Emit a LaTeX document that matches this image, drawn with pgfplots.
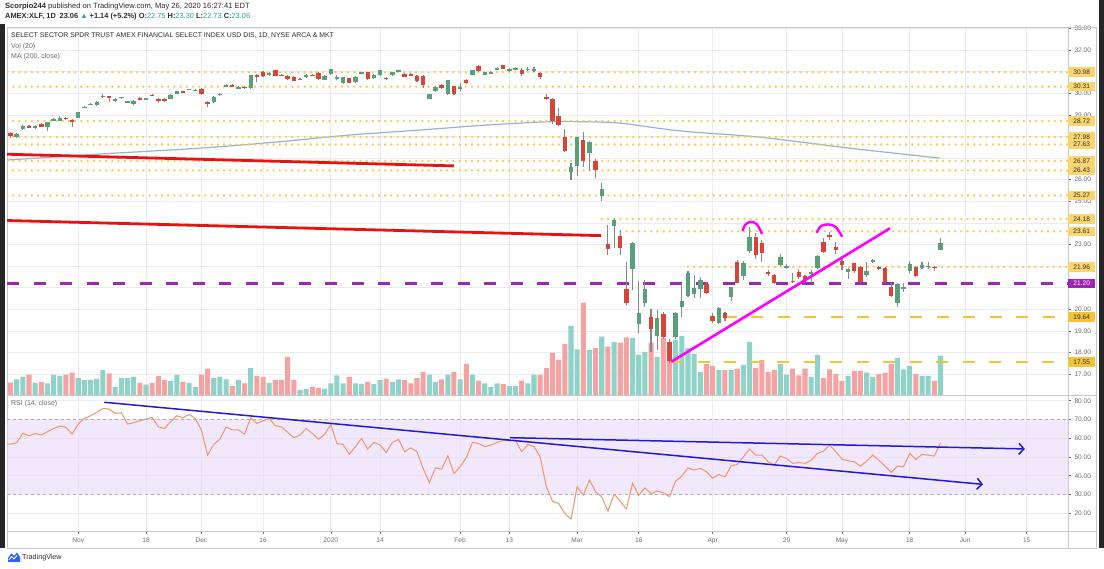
\documentclass[border=0pt]{standalone}
\usepackage{pgfplots}
\pgfplotsset{compat=1.18}
\usepackage{pgfplotstable}
\usepackage{fontspec}
\setmainfont{Liberation Sans}
\usetikzlibrary{arrows.meta}

\definecolor{candleup}{RGB}{88,160,122}
\definecolor{candledn}{RGB}{214,69,56}
\definecolor{volup}{RGB}{142,210,200}
\definecolor{voldn}{RGB}{244,162,162}
\definecolor{wickc}{RGB}{135,135,135}
\definecolor{gridc}{RGB}{236,236,238}
\definecolor{framec}{RGB}{200,200,204}
\definecolor{tickc}{RGB}{110,110,115}
\definecolor{txtc}{RGB}{45,45,50}
\definecolor{dotc}{RGB}{245,203,80}
\definecolor{lvlA}{RGB}{249,214,112}
\definecolor{lvlB}{RGB}{243,196,56}
\definecolor{purp}{RGB}{156,39,176}
\definecolor{redl}{RGB}{232,18,18}
\definecolor{magl}{RGB}{255,0,255}
\definecolor{mac}{RGB}{150,182,196}
\definecolor{rsic}{RGB}{238,150,105}
\definecolor{bandc}{RGB}{231,211,249}
\definecolor{bluel}{RGB}{35,25,210}
\definecolor{tealv}{RGB}{38,166,154}
\definecolor{tvblue}{RGB}{41,98,255}
\definecolor{darkb}{RGB}{38,38,40}

\newcommand\tickfont{\fontsize{6.6}{8}\selectfont}

% trading-day index (0 = 1 Nov 2019), open, high, low, close, volume (millions)
\pgfplotstableread{
i o h l c v
-12 28.06 28.12 27.98 28.02 45
-11 28.17 28.22 27.95 28.02 31
-10 27.96 28.15 27.92 28.11 39
-9 28.34 28.53 28.30 28.50 45
-8 28.46 28.55 28.40 28.44 51
-7 28.38 28.55 28.35 28.50 30
-6 28.57 28.62 28.42 28.45 33
-5 28.45 28.68 28.25 28.65 29
-4 28.76 28.88 28.72 28.80 50
-3 28.73 28.95 28.70 28.87 48
-2 28.88 28.92 28.75 28.80 51
-1 28.76 28.80 28.45 28.68 56
0 28.88 29.15 28.85 29.12 42
1 29.33 29.40 29.30 29.37 38
2 29.48 29.55 29.45 29.52 38
3 29.45 29.66 29.42 29.62 40
4 29.86 29.95 29.80 29.88 62
5 29.85 29.90 29.62 29.83 54
6 29.65 29.80 29.62 29.76 20
7 29.80 29.85 29.75 29.82 42
8 29.58 29.66 29.55 29.62 42
9 29.50 29.68 29.48 29.65 45
10 29.78 29.82 29.72 29.74 30
11 29.75 29.80 29.72 29.77 26
12 29.93 29.96 29.88 29.90 30
13 29.73 29.78 29.53 29.64 47
14 29.75 29.80 29.60 29.66 38
15 29.76 29.95 29.74 29.92 35
16 29.98 30.13 29.95 30.10 50
17 30.08 30.12 30.02 30.05 33
18 30.17 30.22 30.14 30.19 30
19 30.14 30.18 30.10 30.15 20
20 30.20 30.24 29.94 29.96 51
21 29.62 29.66 29.35 29.50 66
22 29.58 29.86 29.55 29.84 42
23 29.94 30.00 29.90 29.97 45
24 30.30 30.42 30.28 30.39 39
25 30.37 30.42 30.30 30.33 22
26 30.25 30.32 30.22 30.28 38
27 30.30 30.35 30.22 30.25 29
28 30.25 30.86 30.22 30.84 67
29 30.83 30.88 30.53 30.77 48
30 31.00 31.04 30.78 30.81 45
31 30.85 31.00 30.82 30.96 30
32 31.07 31.10 30.78 30.81 38
33 30.86 30.90 30.80 30.82 38
34 30.80 30.84 30.62 30.66 95
35 30.76 30.80 30.55 30.58 38
36 30.65 30.70 30.62 30.67 13
37 30.74 30.90 30.72 30.87 15
38 30.86 30.90 30.80 30.82 20
39 30.95 30.98 30.62 30.66 18
40 30.64 30.83 30.62 30.80 15
41 30.89 31.13 30.86 31.11 29
42 30.70 30.85 30.60 30.73 49
43 30.46 30.76 30.44 30.74 29
44 30.69 30.72 30.48 30.50 45
45 30.53 30.79 30.50 30.76 29
46 30.94 31.00 30.90 30.96 27
47 30.97 31.00 30.63 30.66 33
48 30.72 30.90 30.68 30.87 27
49 30.84 31.10 30.82 31.07 38
50 30.72 30.75 30.62 30.66 41
51 30.84 31.00 30.80 30.97 33
52 31.03 31.10 31.00 31.05 39
53 30.89 30.93 30.74 30.76 38
54 30.88 30.92 30.82 30.86 29
55 30.81 30.85 30.54 30.56 42
56 30.80 30.83 30.23 30.38 58
57 29.76 29.98 29.72 29.95 51
58 30.10 30.33 30.05 30.30 33
59 30.38 30.42 30.20 30.23 39
60 29.95 30.62 29.92 30.60 51
61 30.33 30.36 29.93 29.95 58
62 30.24 30.46 30.10 30.26 39
63 30.60 30.66 30.42 30.46 78
64 30.87 31.09 30.84 31.07 51
65 31.26 31.30 31.00 31.03 36
66 30.87 31.00 30.84 30.97 29
67 30.90 31.03 30.88 31.00 20
68 31.13 31.24 31.10 31.16 29
69 31.30 31.33 31.12 31.15 27
70 31.04 31.18 31.00 31.15 22
71 31.14 31.20 31.10 31.16 22
72 31.10 31.16 30.78 30.89 36
73 31.08 31.20 31.05 31.15 29
74 31.09 31.22 30.98 31.11 51
75 30.95 30.98 30.68 30.76 50
76 29.83 29.95 29.70 29.78 67
77 29.76 29.80 28.60 28.73 105
78 28.95 29.30 28.50 28.53 88
79 27.96 28.37 27.28 27.32 128
80 26.37 26.78 25.98 26.57 173
81 26.63 27.98 26.17 27.96 114
82 27.83 28.22 26.60 26.88 231
83 27.25 27.80 26.40 27.76 112
84 26.88 26.95 26.10 26.44 117
85 25.24 25.83 25.02 25.55 146
86 23.00 23.90 22.50 22.77 121
87 23.85 24.21 22.82 24.13 133
88 23.39 23.67 22.50 22.82 131
89 20.92 22.20 20.20 20.30 144
90 21.86 23.10 20.90 23.05 143
91 19.31 21.32 18.88 19.83 100
92 20.30 21.35 20.10 20.96 108
93 19.62 20.00 18.03 19.10 131
94 18.76 19.96 18.10 19.58 95
95 19.78 19.89 18.60 18.70 143
96 18.50 18.60 17.50 17.62 115
97 18.70 19.89 18.60 19.81 138
98 20.09 21.20 19.65 20.39 148
99 20.61 21.77 20.55 21.69 118
100 20.73 21.60 20.50 21.00 103
101 20.96 21.48 20.50 21.35 58
102 21.17 21.27 20.70 20.77 77
103 19.68 19.85 19.35 19.47 73
104 19.38 20.10 19.32 20.04 62
105 19.81 19.86 19.45 19.58 62
106 20.55 21.05 20.40 21.02 62
107 22.20 22.28 21.20 21.23 66
108 21.54 22.25 21.35 22.15 75
109 22.71 23.80 22.60 23.36 133
110 23.33 23.54 22.31 22.51 68
111 23.08 23.20 22.20 22.59 87
112 21.74 21.80 21.55 21.63 58
113 21.58 21.62 21.15 21.23 62
114 22.05 22.55 22.00 22.40 78
115 21.96 22.10 21.85 21.99 51
116 21.32 21.70 21.20 21.29 66
117 21.74 21.85 21.40 21.48 49
118 21.54 21.60 21.25 21.34 66
119 21.63 21.80 21.20 21.74 45
120 21.90 22.50 21.85 22.46 100
121 23.13 23.30 22.60 22.66 43
122 23.44 23.60 23.20 23.36 64
123 22.87 23.10 22.55 22.74 53
124 22.25 22.45 21.80 22.05 35
125 21.74 21.90 21.38 21.86 48
126 22.12 22.15 21.70 21.78 60
127 21.94 22.00 21.20 21.27 60
128 21.58 22.20 21.50 21.78 56
129 22.20 22.32 22.15 22.26 45
130 21.97 22.02 21.80 21.85 52
131 21.92 21.97 21.20 21.27 56
132 21.04 21.20 20.55 20.61 77
133 20.27 21.20 20.09 21.17 93
134 20.98 21.20 20.80 21.02 64
135 21.78 22.25 21.70 22.09 73
136 21.97 22.02 21.50 21.55 53
137 21.91 22.20 21.85 22.05 48
138 21.99 22.20 21.85 22.01 48
139 21.97 22.00 21.75 21.90 35
140 22.75 23.30 22.73 23.06 98
}\candles

\pgfplotstableread{
i r
-12 56.7
-11 56.9
-10 57.6
-9 62.6
-8 61.3
-7 62.6
-6 61.7
-5 63.5
-4 65.2
-3 66.5
-2 65.8
-1 62.2
0 67.6
1 70.6
2 72.0
3 73.8
4 75.9
5 75.6
6 73.3
7 73.6
8 67.6
9 68.3
10 69.3
11 70.2
12 71.1
13 66.1
14 65.2
15 68.8
16 72.0
17 70.9
18 72.7
19 70.6
20 64.4
21 51.0
22 56.7
23 59.5
24 66.0
25 64.4
26 64.4
27 62.2
28 70.9
29 67.9
30 69.2
31 70.6
32 66.7
33 66.1
34 63.1
35 60.3
36 61.7
37 65.2
38 62.6
39 59.5
40 62.0
41 67.4
42 57.2
43 56.7
44 51.5
45 55.5
46 59.9
47 54.2
48 57.8
49 56.4
50 52.4
51 57.8
52 59.4
53 52.8
54 54.9
55 52.8
56 43.9
57 36.4
58 44.2
59 43.5
60 50.7
61 41.2
62 44.8
63 49.6
64 57.8
65 57.2
66 55.5
67 56.4
68 57.8
69 58.7
70 58.7
71 58.7
72 52.8
73 56.7
74 55.5
75 50.1
76 34.1
77 26.4
78 25.2
79 19.9
80 16.8
81 34.1
82 29.6
83 37.7
84 31.4
85 28.8
86 21.1
87 30.2
88 26.4
89 22.2
90 35.9
91 29.6
92 33.5
93 30.5
94 31.9
95 30.9
96 28.8
97 37.3
98 39.8
99 44.2
100 43.0
101 43.9
102 42.1
103 38.6
104 40.7
105 39.4
106 45.3
107 46.0
108 50.1
109 54.2
110 51.0
111 51.0
112 47.5
113 45.7
114 50.5
115 49.2
116 46.6
117 47.1
118 46.6
119 48.3
120 51.9
121 53.1
122 56.4
123 52.8
124 48.9
125 48.0
126 47.5
127 45.1
128 47.8
129 51.0
130 48.3
131 45.1
132 41.8
133 45.1
134 44.8
135 51.9
136 48.7
137 51.4
138 51.0
139 50.5
140 57.6
}\rsi

\pgfplotsset{
  pane/.style={scale only axis, width=1061bp, xmin=-11.57, xmax=160.7, anchor=south west},
  upc/.style={restrict expr to domain={\thisrow{c}-\thisrow{o}}{-0.0001:1000}},
  dnc/.style={restrict expr to domain={\thisrow{c}-\thisrow{o}}{-1000:-0.0002}},
}
\tikzset{
  dotlvl/.style={draw=dotc, line width=2.6bp, line cap=round, dash pattern=on 0bp off 6.2bp},
  dashlvl/.style={line width=2.6bp, dash pattern=on 12bp off 14.5bp},
  lvl/.style={anchor=west, inner sep=0pt, minimum width=27bp, minimum height=9.4bp, font=\tickfont, text=txtc},
}

\begin{document}
\begin{tikzpicture}[x=1bp,y=1bp]
\fill[white] (0,0) rectangle (1104,569);

% ---- main pane: frame, grid, price scale
\begin{axis}[pane, at={(7bp,174bp)}, height=367.5bp,
  ymin=16.03, ymax=33.05,
  xtick={0,11,20,30,41,49,62,70,81,91,103,115,124,135,144,154}, xticklabels={},
  ytick={17,18,...,33},
  yticklabels={17.00,18.00,19.00,20.00,,,23.00,,25.00,26.00,,,29.00,30.00,,32.00,33.00},
  ytick pos=right, yticklabel pos=right,
  grid=major, major grid style={draw=gridc, line width=0.7bp},
  axis line style={draw=framec, line width=0.8bp},
  xtick style={draw=none}, ytick style={draw=tickc, line width=0.5bp},
  tick align=outside, major tick length=3bp,
  yticklabel style={font=\tickfont, text=tickc},
]
\end{axis}

% ---- volume
\begin{axis}[pane, at={(7bp,174bp)}, height=367.5bp,
  ymin=0, ymax=918.75, hide axis]
\addplot[upc, ybar, bar width=0.82, bar shift=0pt, fill=volup, draw=none] table[x=i, y=v]{\candles};
\addplot[dnc, ybar, bar width=0.82, bar shift=0pt, fill=voldn, draw=none] table[x=i, y=v]{\candles};
\end{axis}

% ---- price data
\begin{axis}[pane, at={(7bp,174bp)}, height=367.5bp,
  ymin=16.03, ymax=33.05, hide axis, clip mode=individual]
% MA 200
\addplot[mac, line width=1.2bp, smooth] coordinates {(-11.57,26.91) (3.52,27.19) (19.76,27.46) (32.74,27.76) (44.11,28.07) (55.47,28.30) (65.21,28.51) (74.95,28.67) (80.63,28.69) (87.94,28.62) (97.68,28.26) (110.67,27.97) (125.28,27.46) (139.89,27.0)};
% dotted levels
\addplot[dotlvl] coordinates {(-11.57,30.98) (160.7,30.98)};
\addplot[dotlvl] coordinates {(-11.57,30.31) (160.7,30.31)};
\addplot[dotlvl] coordinates {(-11.57,28.72) (160.7,28.72)};
\addplot[dotlvl] coordinates {(-11.57,27.98) (160.7,27.98)};
\addplot[dotlvl] coordinates {(-11.57,27.63) (160.7,27.63)};
\addplot[dotlvl] coordinates {(-11.57,26.87) (160.7,26.87)};
\addplot[dotlvl] coordinates {(-11.57,26.43) (160.7,26.43)};
\addplot[dotlvl] coordinates {(-11.57,25.27) (160.7,25.27)};
\addplot[dotlvl] coordinates {(85,24.18) (160.7,24.18)};
\addplot[dotlvl] coordinates {(88,23.61) (160.7,23.61)};
\addplot[dotlvl] coordinates {(99,21.96) (160.7,21.96)};
% dashed levels
\addplot[dashlvl, draw=purp] coordinates {(-11.57,21.20) (160.7,21.20)};
\addplot[dashlvl, draw=lvlB] coordinates {(105,19.64) (160.7,19.64)};
\addplot[dashlvl, draw=lvlB] coordinates {(96.3,17.55) (160.7,17.55)};
% candles
\addplot[forget plot, draw=none, mark=none, error bars/.cd, y dir=both, y explicit, error mark=none,
  error bar style={draw=wickc, line width=1.1bp}]
  table[x=i, y expr={(\thisrow{h}+\thisrow{l})/2}, y error expr={(\thisrow{h}-\thisrow{l})/2}]{\candles};
\addplot[upc, forget plot, draw=none, mark=none, error bars/.cd, y dir=both, y explicit, error mark=none,
  error bar style={draw=candleup, line width=4.4bp}]
  table[x=i, y expr={(\thisrow{o}+\thisrow{c})/2}, y error expr={max(abs(\thisrow{c}-\thisrow{o})/2,0.025)}]{\candles};
\addplot[dnc, forget plot, draw=none, mark=none, error bars/.cd, y dir=both, y explicit, error mark=none,
  error bar style={draw=candledn, line width=4.4bp}]
  table[x=i, y expr={(\thisrow{o}+\thisrow{c})/2}, y error expr={max(abs(\thisrow{c}-\thisrow{o})/2,0.025)}]{\candles};
% drawn trend lines
\addplot[redl, line width=2.8bp] coordinates {(-11.57,27.18) (61.0,26.64)};
\addplot[redl, line width=2.8bp] coordinates {(-11.57,24.11) (84.9,23.41)};
\addplot[magl, line width=2.6bp] coordinates {(96.3,17.57) (131.8,23.75)};
\addplot[magl, line width=2.4bp, smooth] coordinates {(107.86,23.63) (108.31,23.92) (109.2,24.05) (110.18,23.94) (111.04,23.48)};
\addplot[magl, line width=2.4bp, smooth] coordinates {(119.87,23.54) (120.57,23.85) (121.75,23.93) (123.0,23.81) (124.03,23.36)};
% level labels on the price scale
\node[lvl, fill=lvlA] at (axis cs:160.7,30.98) {30.98};
\node[lvl, fill=lvlA] at (axis cs:160.7,30.31) {30.31};
\node[lvl, fill=lvlA] at (axis cs:160.7,28.72) {28.72};
\node[lvl, fill=lvlA] at (axis cs:160.7,27.98) {27.98};
\node[lvl, fill=lvlA] at (axis cs:160.7,27.63) {27.63};
\node[lvl, fill=lvlA] at (axis cs:160.7,26.87) {26.87};
\node[lvl, fill=lvlA] at (axis cs:160.7,26.43) {26.43};
\node[lvl, fill=lvlA] at (axis cs:160.7,25.27) {25.27};
\node[lvl, fill=lvlA] at (axis cs:160.7,24.18) {24.18};
\node[lvl, fill=lvlA] at (axis cs:160.7,23.61) {23.61};
\node[lvl, fill=lvlA] at (axis cs:160.7,21.96) {21.96};
\node[lvl, fill=purp, text=white] at (axis cs:160.7,21.20) {21.20};
\node[lvl, fill=lvlB] at (axis cs:160.7,19.64) {19.64};
\node[lvl, fill=lvlB] at (axis cs:160.7,17.55) {17.55};
\end{axis}

% ---- RSI pane
\begin{axis}[pane, at={(7bp,38bp)}, height=136bp,
  ymin=10.53, ymax=83.07,
  xtick={0,11,20,30,41,49,62,70,81,91,103,115,124,135,144,154},
  xticklabels={Nov,18,Dec,16,2020,14,Feb,13,Mar,16,Apr,20,May,18,Jun,15},
  ytick={20,30,...,80}, ytick pos=right, yticklabel pos=right, xtick pos=bottom,
  grid=major, major grid style={draw=gridc, line width=0.7bp},
  axis line style={draw=framec, line width=0.8bp},
  tick style={draw=tickc, line width=0.5bp},
  tick align=outside, major tick length=3bp,
  xticklabel style={font=\tickfont, text=tickc},
  yticklabel style={font=\tickfont, text=tickc, /pgf/number format/fixed, /pgf/number format/fixed zerofill, /pgf/number format/precision=2, /pgf/number format/assume math mode=true},
  clip mode=individual,
]
\addplot[draw=none, fill=bandc, fill opacity=0.5] coordinates {(-11.57,30) (160.7,30) (160.7,70) (-11.57,70)} -- cycle;
\addplot[draw=gray!60, line width=0.7bp, dash pattern=on 3bp off 3bp] coordinates {(-11.57,70) (160.7,70)};
\addplot[draw=gray!60, line width=0.7bp, dash pattern=on 3bp off 3bp] coordinates {(-11.57,30) (160.7,30)};
\addplot[rsic, line width=1bp] table[x=i, y=r]{\rsi};
\addplot[bluel, line width=1.5bp, -{Straight Barb[length=5bp,width=11bp]}] coordinates {(4.22,79.2) (146.9,35.4)};
\addplot[bluel, line width=1.5bp, -{Straight Barb[length=5bp,width=11bp]}] coordinates {(70.1,60.3) (153.7,54.3)};
\end{axis}

% ---- frame of the chart
\draw[framec, line width=0.8bp] (1068,541.5) -- (1096,541.5) -- (1096,21) -- (7,21) -- (7,38);
\draw[framec, line width=0.8bp] (1068,174) -- (1096,174);
\draw[framec, line width=0.8bp] (1068,38) -- (1096,38);
\draw[framec, line width=0.8bp] (1068,38) -- (1068,21);
\fill[darkb] (0,21) rectangle (5,545);
\fill[darkb] (1099,21) rectangle (1104,569);

% ---- texts
\node[anchor=west, inner sep=0pt, font=\fontsize{7.6}{9}\selectfont, text=txtc] at (5,562.3)
  {\textbf{Scorpio244} published on TradingView.com, May 26, 2020 16:27:41 EDT};
\node[anchor=west, inner sep=0pt, font=\fontsize{7.45}{9}\selectfont, text=txtc] at (5,552.3)
  {\textbf{AMEX:XLF, 1D\enspace 23.06 \textcolor{tealv}{▲} +1.14 (+5.2\%) O:}\textcolor{tealv}{22.75} \textbf{H:}\textcolor{tealv}{23.30} \textbf{L:}\textcolor{tealv}{22.73} \textbf{C:}\textcolor{tealv}{23.06}};
\node[anchor=west, inner sep=0pt, font=\fontsize{6.9}{8}\selectfont, text=txtc] at (11,533)
  {SELECT SECTOR SPDR TRUST AMEX FINANCIAL SELECT INDEX USD DIS, 1D, NYSE ARCA \& MKT};
\node[anchor=west, inner sep=0pt, font=\fontsize{7.0}{8}\selectfont, text=tickc] at (11,522.3) {Vol (20)};
\node[anchor=west, inner sep=0pt, font=\fontsize{7.0}{8}\selectfont, text=tickc] at (11,512.3) {MA (200, close)};
\node[anchor=west, inner sep=0pt, font=\fontsize{7.0}{8}\selectfont, text=tickc] at (11,165) {RSI (14, close)};

% ---- TradingView logo
\fill[tvblue] (8,7) -- (20,7) -- (20,12) -- (17,16.5) -- (14,13) -- (11.5,15.5) -- (8,11) -- cycle;
\draw[white, line width=0.9bp] (9,9) -- (11.5,12.5) -- (14,10) -- (17,13.5);
\node[anchor=west, inner sep=0pt, font=\fontsize{7.2}{8}\selectfont, text=txtc] at (22,11.5) {TradingView};
\end{tikzpicture}
\end{document}
